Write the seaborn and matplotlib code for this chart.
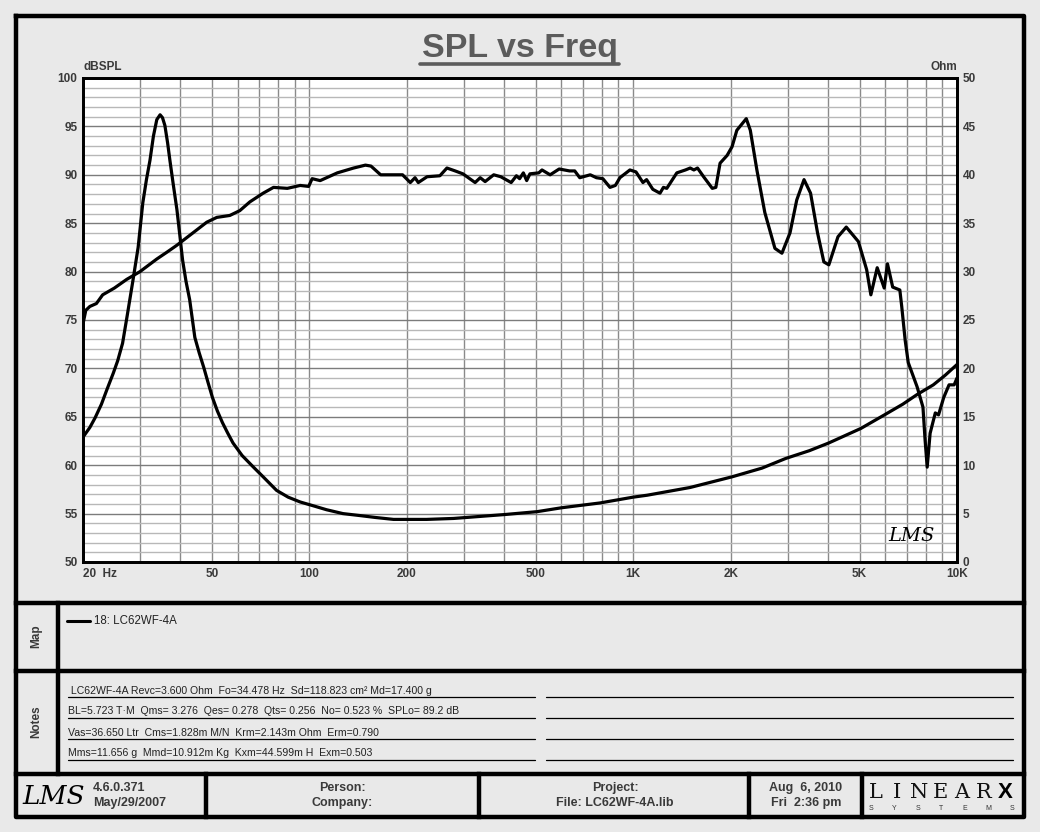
import matplotlib
matplotlib.use("Agg")
import matplotlib.pyplot as plt
import seaborn as sns
import numpy as np
import pandas as pd

# ---------------- data ----------------
spl_freq = [20, 20.4, 21, 22, 23, 25, 27.3, 30, 33.8, 36.3, 38.9, 43.7, 48.2, 51.8, 56.8,
            61, 65.5, 72, 77.5, 85.5, 93.7, 99.5, 102, 108, 122, 137, 149, 155, 166, 182,
            194, 205, 212, 217, 231, 253, 266, 282, 298, 325, 337, 349, 371, 390, 420,
            436, 446, 458, 469, 480, 511, 523, 554, 591, 636, 660, 684, 737, 770, 806,
            848, 881, 910, 977, 1020, 1072, 1100, 1150, 1210, 1240, 1270, 1364, 1450,
            1500, 1540, 1580, 1650, 1755, 1800, 1855, 1950, 2020, 2090, 2235, 2300, 2410,
            2550, 2740, 2880, 3050, 3200, 3370, 3530, 3710, 3880, 4020, 4290, 4550, 4960,
            5260, 5420, 5670, 5960, 6100, 6330, 6660, 6750, 6918, 7070, 7530, 7850, 7970,
            8090, 8260, 8570, 8770, 9100, 9450, 9800, 10000]
spl_db = [74.6, 76.0, 76.4, 76.7, 77.6, 78.3, 79.2, 80.0, 81.3, 82.0, 82.7, 84.0, 85.1, 85.6, 85.8,
          86.3, 87.2, 88.1, 88.7, 88.6, 88.9, 88.8, 89.6, 89.4, 90.2, 90.7, 91.0, 90.9, 90.0, 90.0,
          90.0, 89.2, 89.7, 89.2, 89.8, 89.9, 90.7, 90.4, 90.1, 89.2, 89.7, 89.3, 90.0, 89.8, 89.2,
          89.9, 89.6, 90.2, 89.4, 90.1, 90.2, 90.5, 90.0, 90.6, 90.4, 90.4, 89.7, 90.0, 89.7, 89.6,
          88.7, 88.9, 89.7, 90.5, 90.3, 89.2, 89.5, 88.5, 88.1, 88.7, 88.6, 90.2, 90.5,
          90.7, 90.5, 90.7, 89.8, 88.6, 88.7, 91.2, 92.0, 92.9, 94.6, 95.8, 94.6, 90.5,
          86.1, 82.4, 81.9, 84.0, 87.4, 89.5, 88.1, 84.0, 81.0, 80.7, 83.6, 84.6, 83.1,
          80.2, 77.6, 80.4, 78.3, 80.8, 78.4, 78.1, 76.4, 72.9, 70.6, 68.1, 66.0, 62.6,
          59.8, 63.3, 65.4, 65.2, 67.0, 68.3, 68.3, 69.0]

imp_freq = [20, 21, 21.8, 22.8, 23.7, 24.8, 25.6, 26.5, 27.4, 28.5, 29.6, 30.6, 31.4, 32.2,
            33.0, 33.8, 34.6, 35.2, 35.8, 36.5, 37.1, 38.0, 39.0, 39.8, 40.6, 41.6, 42.7,
            44.3, 45.7, 47.2, 48.7, 50.2, 52, 53.9, 56, 58.1, 62, 67.2, 72, 79.2, 86, 93.7,
            103, 113, 127, 143, 160, 182, 230, 279, 400, 505, 600, 790, 1000, 1105, 1500,
            2020, 2500, 2960, 3500, 4020, 5050, 5970, 6800, 7530, 8450, 9200, 10000]
imp_ohm = [12.9, 13.9, 14.9, 16.3, 17.8, 19.5, 20.8, 22.6, 25.5, 29.0, 32.5, 37.1, 39.5, 41.5,
           44.0, 45.7, 46.2, 45.9, 45.1, 43.3, 41.5, 39.0, 36.4, 33.8, 31.2, 29.0, 27.1,
           23.2, 21.6, 20.1, 18.5, 17.0, 15.6, 14.4, 13.3, 12.3, 11.0, 9.8, 8.8, 7.4, 6.7, 6.2,
           5.8, 5.4, 5.0, 4.8, 4.6, 4.4, 4.4, 4.5, 4.9, 5.2, 5.6, 6.1, 6.7, 6.9, 7.7,
           8.8, 9.7, 10.7, 11.5, 12.3, 13.8, 15.2, 16.3, 17.3, 18.3, 19.3, 20.4]

x_ticks = [20, 50, 100, 200, 500, 1000, 2000, 5000, 10000]
x_labels = ["20  Hz", "50", "100", "200", "500", "1K", "2K", "5K", "10K"]
left_ticks = [50, 55, 60, 65, 70, 75, 80, 85, 90, 95, 100]
right_ticks = [0, 5, 10, 15, 20, 25, 30, 35, 40, 45, 50]

title = "SPL vs Freq"
map_entry = "18: LC62WF-4A"
notes = [" LC62WF-4A Revc=3.600 Ohm  Fo=34.478 Hz  Sd=118.823 cm\u00b2 Md=17.400 g",
         "BL=5.723 T\u00b7M  Qms= 3.276  Qes= 0.278  Qts= 0.256  No= 0.523 %  SPLo= 89.2 dB",
         "Vas=36.650 Ltr  Cms=1.828m M/N  Krm=2.143m Ohm  Erm=0.790",
         "Mms=11.656 g  Mmd=10.912m Kg  Kxm=44.599m H  Exm=0.503"]

# ---------------- style ----------------
sns.set_style("white")
plt.rcParams['font.family'] = ['Liberation Sans', 'DejaVu Sans']

W, H = 1040, 832
fig = plt.figure(figsize=(W / 100, H / 100), dpi=100)
BGC = "#e9e9e9"
fig.patch.set_facecolor(BGC)
TXT = "#3a3a3a"

# background axes in pixel coords
bg = fig.add_axes([0, 0, 1, 1], zorder=0)
bg.set_xlim(0, W)
bg.set_ylim(H, 0)
bg.axis("off")
bg.patch.set_alpha(0)

# outer frame + panel dividers
K = dict(color="black", lw=3.2, solid_capstyle="projecting")
bg.plot([16, 1024, 1024, 16, 16], [16, 16, 817, 817, 16], **K)
for yy in [603, 671, 774]:
    bg.plot([16, 1024], [yy, yy], **K)
bg.plot([58, 58], [603, 774], **K)
for xx in [206, 479, 749, 862]:
    bg.plot([xx, xx], [774, 817], **K)

# title
bg.text(520, 48, title, ha="center", va="center", fontsize=24.5, fontweight="bold", color="#5c5c5c")
bg.plot([420, 619], [64, 64], color="#5c5c5c", lw=2.6)
bg.text(83, 67, "dBSPL", ha="left", va="center", fontsize=8.5, fontweight="bold", color=TXT)
bg.text(957, 67, "Ohm", ha="right", va="center", fontsize=8.5, fontweight="bold", color=TXT)

# Map panel
bg.text(36, 636, "Map", rotation=90, ha="center", va="center", fontsize=8.5, fontweight="bold", color=TXT)
bg.plot([67, 90], [621, 621], color="black", lw=2.2)
bg.text(94, 621, map_entry, ha="left", va="center", fontsize=8.3, color="#222222")

# Notes panel
bg.text(36, 722, "Notes", rotation=90, ha="center", va="center", fontsize=8.5, fontweight="bold", color=TXT)
for i, (line, yy) in enumerate(zip(notes, [697, 718, 739, 760])):
    bg.text(68, yy - 1.5, line, ha="left", va="bottom", fontsize=7.6, color="#222222")
    bg.plot([68, 535], [yy, yy], color="black", lw=0.9)
    bg.plot([546, 1013], [yy, yy], color="black", lw=0.9)

# footer
bg.text(54, 797, "LMS", ha="center", va="center", fontsize=19, fontstyle="italic",
        family="DejaVu Serif", color="black", fontweight="light")
bg.text(93, 788, "4.6.0.371", ha="left", va="center", fontsize=9, fontweight="bold", color=TXT)
bg.text(93, 803, "May/29/2007", ha="left", va="center", fontsize=9, fontweight="bold", color=TXT)
bg.text(342, 788, "Person:", ha="center", va="center", fontsize=9, fontweight="bold", color=TXT)
bg.text(342, 803, "Company:", ha="center", va="center", fontsize=9, fontweight="bold", color=TXT)
bg.text(615, 788, "Project:", ha="center", va="center", fontsize=9, fontweight="bold", color=TXT)
bg.text(615, 803, "File: LC62WF-4A.lib", ha="center", va="center", fontsize=9, fontweight="bold", color=TXT)
bg.text(806, 788, "Aug  6, 2010", ha="center", va="center", fontsize=9, fontweight="bold", color=TXT)
bg.text(806, 803, "Fri  2:36 pm", ha="center", va="center", fontsize=9, fontweight="bold", color=TXT)
for i, ch in enumerate("LINEAR"):
    bg.text(876 + i * 21.5, 793, ch, ha="center", va="center", fontsize=15,
            family="DejaVu Serif", fontweight="light", color="#111111")
bg.text(1005, 792, "X", ha="center", va="center", fontsize=16, fontweight="bold", color="black")
for i, ch in enumerate("SYSTEMS"):
    bg.text(871 + i * 23.5, 808, ch, ha="center", va="center", fontsize=5, color="#333333")

# ---------------- main chart ----------------
L, R, T, B = 83, 957, 78, 562
ax = fig.add_axes([L / W, 1 - B / H, (R - L) / W, (B - T) / H], zorder=2)
ax.set_facecolor("white")

spl_df = pd.DataFrame({"freq": spl_freq, "spl": spl_db})
imp_df = pd.DataFrame({"freq": imp_freq, "ohm": imp_ohm})

sns.lineplot(data=spl_df, x="freq", y="spl", ax=ax, color="black", lw=2.3, zorder=5)
ax.set_xscale("log")
ax.set_xlim(20, 10000)
ax.set_ylim(50, 100)

minor_x = [f for dec in [10, 100, 1000] for f in range(dec, dec * 10, dec) if 20 <= f <= 10000] + [10000]
ax.set_xticks(minor_x, minor=True)
ax.set_xticks(x_ticks)
ax.set_xticklabels(x_labels)
ax.set_yticks(left_ticks)
ax.set_yticks(np.arange(50, 101, 1), minor=True)
ax.xaxis.set_minor_formatter(matplotlib.ticker.NullFormatter())

ax.grid(which="both", axis="x", color="#8a8a8a", lw=1.0)
ax.grid(which="minor", axis="y", color="#b8b8b8", lw=1.0)
ax.grid(which="major", axis="y", color="#7c7c7c", lw=1.0)
ax.set_axisbelow(True)
ax.tick_params(which="both", length=0)
ax.tick_params(axis="y", pad=4, labelsize=8.5, labelcolor=TXT)
ax.tick_params(axis="x", pad=4, labelsize=8.5, labelcolor=TXT)
for lbl in ax.get_xticklabels() + ax.get_yticklabels():
    lbl.set_fontweight("bold")
first = ax.get_xticklabels()[0]
first.set_horizontalalignment("left")
ax.set_xlabel("")
ax.set_ylabel("")
for s in ax.spines.values():
    s.set_color("black")
    s.set_linewidth(2.0)

ax2 = ax.twinx()
sns.lineplot(data=imp_df, x="freq", y="ohm", ax=ax2, color="black", lw=2.3)
ax2.set_ylim(0, 50)
ax2.set_xlim(20, 10000)
ax2.set_yticks(right_ticks)
ax2.tick_params(length=0, pad=4, labelsize=8.5, labelcolor=TXT)
for lbl in ax2.get_yticklabels():
    lbl.set_fontweight("bold")
ax2.set_ylabel("")
ax2.grid(False)
for s in ax2.spines.values():
    s.set_color("black")
    s.set_linewidth(2.0)

# LMS signature in plot
ax.text(0.975, 0.035, "LMS", transform=ax.transAxes, ha="right", va="bottom", fontsize=14,
        fontstyle="italic", family="DejaVu Serif", fontweight="light", color="black")

fig.savefig("out.png", dpi=100, facecolor=BGC)
